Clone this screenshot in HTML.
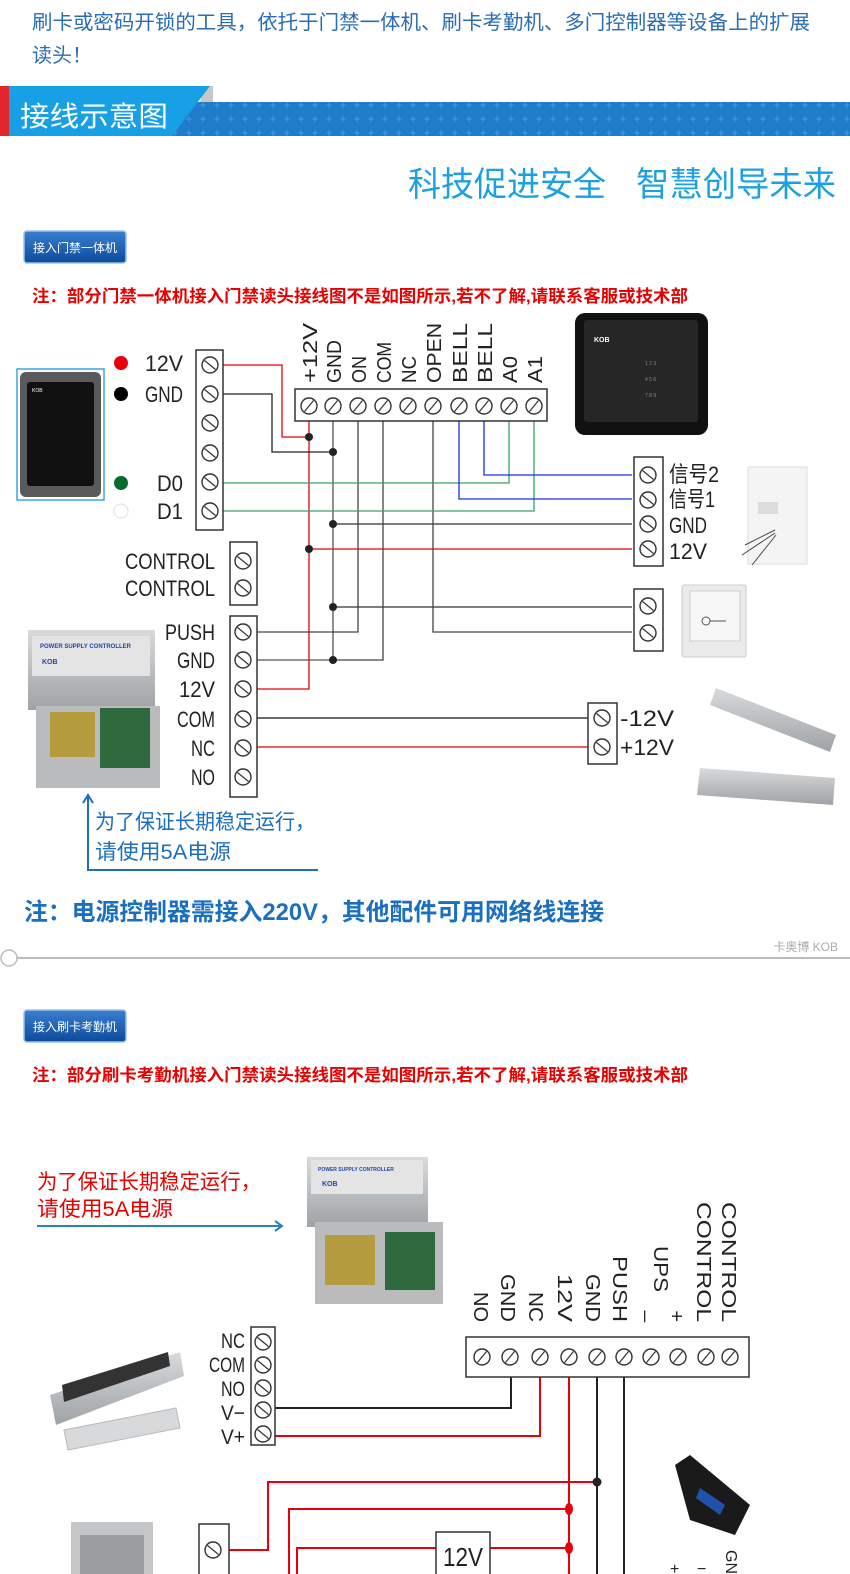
<!DOCTYPE html>
<html><head><meta charset="utf-8">
<style>
html,body{margin:0;padding:0;background:#fff;}
svg{display:block;}
text{font-family:"Liberation Sans","Noto Sans CJK SC",sans-serif;}
</style></head>
<body>
<svg width="850" height="1574" viewBox="0 0 850 1574" xmlns="http://www.w3.org/2000/svg">
<defs>
  <symbol id="sf" viewBox="-10 -10 20 20" overflow="visible">
    <circle r="8" fill="#fff" stroke="#333" stroke-width="1.4"/>
    <line x1="-4.5" y1="5.5" x2="4.5" y2="-5.5" stroke="#333" stroke-width="1.2"/>
  </symbol>
  <symbol id="sb" viewBox="-10 -10 20 20" overflow="visible">
    <circle r="8" fill="#fff" stroke="#333" stroke-width="1.4"/>
    <line x1="-5.5" y1="-4.5" x2="5.5" y2="4.5" stroke="#333" stroke-width="1.2"/>
  </symbol>
  <linearGradient id="btn" x1="0" y1="0" x2="0" y2="1">
    <stop offset="0" stop-color="#3a7fd0"/><stop offset="1" stop-color="#0d4a9c"/>
  </linearGradient>
  <linearGradient id="grey" x1="0" y1="0" x2="0" y2="1">
    <stop offset="0" stop-color="#d8dadc"/><stop offset="1" stop-color="#9fa3a6"/>
  </linearGradient>
  <pattern id="dots" width="14" height="14" patternUnits="userSpaceOnUse">
    <rect width="14" height="14" fill="#1f7ccb"/>
    <path d="M7 3 L8 7 L7 11 L6 7Z M3 7 L7 6 L11 7 L7 8Z" fill="#3d95dc"/>
  </pattern>
</defs>

<!-- top description -->
<text x="32" y="29" font-size="20" fill="#2a6db5" textLength="778" lengthAdjust="spacingAndGlyphs">刷卡或密码开锁的工具，依托于门禁一体机、刷卡考勤机、多门控制器等设备上的扩展</text>
<text x="32" y="62" font-size="20" fill="#2a6db5">读头！</text>

<!-- banner -->
<rect x="170" y="102" width="680" height="34" fill="url(#dots)"/>
<polygon points="205,86 213,86 213,102 200,102" fill="#c8c8c8"/>
<polygon points="8,86 210,86 172,136 8,136" fill="#18a0e6"/>
<rect x="0" y="86" width="9" height="50" fill="#e3262b"/>
<text x="20" y="126" font-size="28" fill="#fff" textLength="148" lengthAdjust="spacingAndGlyphs">接线示意图</text>

<text x="408" y="196" font-size="34" fill="#1aa0e3" textLength="198" lengthAdjust="spacingAndGlyphs">科技促进安全</text>
<text x="636" y="196" font-size="34" fill="#1aa0e3" textLength="200" lengthAdjust="spacingAndGlyphs">智慧创导未来</text>

<!-- button 1 -->
<rect x="24" y="231" width="102" height="32" rx="3" fill="url(#btn)" stroke="#9cc2ea" stroke-width="1.5"/>
<text x="75" y="252" font-size="12" fill="#fff" text-anchor="middle">接入门禁一体机</text>

<text x="32" y="302" font-size="17" font-weight="bold" fill="#e60000" textLength="656" lengthAdjust="spacingAndGlyphs">注：部分门禁一体机接入门禁读头接线图不是如图所示,若不了解,请联系客服或技术部</text>

<!-- left reader image -->
<rect x="17" y="369" width="87" height="131" fill="#fff" stroke="#3aa6e6" stroke-width="1.5"/>
<rect x="20" y="372" width="81" height="125" rx="6" fill="#5a5a5c"/>
<rect x="27" y="382" width="67" height="104" rx="3" fill="#111"/>
<text x="32" y="392" font-size="5" fill="#fff">KOB</text>

<!-- dots and labels -->
<circle cx="121" cy="363" r="7" fill="#e8000b"/>
<circle cx="121" cy="394" r="7" fill="#000"/>
<circle cx="121" cy="483" r="7" fill="#0a6a2e"/>
<circle cx="121" cy="511" r="7" fill="#fff" stroke="#ddd"/>
<g font-size="22" fill="#222">
<text x="145" y="371" textLength="38" lengthAdjust="spacingAndGlyphs">12V</text>
<text x="145" y="402" textLength="38" lengthAdjust="spacingAndGlyphs">GND</text>
<text x="157" y="491" textLength="26" lengthAdjust="spacingAndGlyphs">D0</text>
<text x="157" y="519" textLength="26" lengthAdjust="spacingAndGlyphs">D1</text>
<text x="125" y="569" textLength="90" lengthAdjust="spacingAndGlyphs">CONTROL</text>
<text x="125" y="596" textLength="90" lengthAdjust="spacingAndGlyphs">CONTROL</text>
<g text-anchor="end">
<text x="215" y="640" textLength="50" lengthAdjust="spacingAndGlyphs">PUSH</text>
<text x="215" y="668" textLength="38" lengthAdjust="spacingAndGlyphs">GND</text>
<text x="215" y="697" textLength="36" lengthAdjust="spacingAndGlyphs">12V</text>
<text x="215" y="727" textLength="38" lengthAdjust="spacingAndGlyphs">COM</text>
<text x="215" y="756" textLength="24" lengthAdjust="spacingAndGlyphs">NC</text>
<text x="215" y="785" textLength="24" lengthAdjust="spacingAndGlyphs">NO</text>
</g>
</g>

<!-- wires diagram 1 -->
<g fill="none" stroke-width="1.3">
<polyline points="223,365 282,365 282,437 309,437" stroke="#e8000b"/>
<polyline points="309,421 309,689 257,689" stroke="#e8000b"/>
<polyline points="309,549 632,549" stroke="#e8000b"/>
<polyline points="223,394 272,394 272,452 333,452" stroke="#222"/>
<polyline points="333,421 333,660 257,660" stroke="#555"/>
<polyline points="333,524 632,524" stroke="#333"/>
<polyline points="333,607 632,607" stroke="#333"/>
<polyline points="358,421 358,632 257,632" stroke="#444"/>
<polyline points="383,421 383,660 333,660" stroke="#444"/>
<polyline points="433,421 433,632 632,632" stroke="#444"/>
<polyline points="223,483 509,483 509,421" stroke="#3aa06a"/>
<polyline points="223,511 534,511 534,421" stroke="#3aa06a"/>
<polyline points="484,421 484,475 632,475" stroke="#1e2cf0"/>
<polyline points="459,421 459,499 632,499" stroke="#1e2cf0"/>
<polyline points="257,718 588,718" stroke="#111"/>
<polyline points="257,747 588,747" stroke="#e8000b"/>
</g>
<g fill="#222">
<circle cx="309" cy="437" r="4"/><circle cx="333" cy="452" r="4"/>
<circle cx="333" cy="524" r="4"/><circle cx="309" cy="549" r="4"/>
<circle cx="333" cy="607" r="4"/><circle cx="333" cy="660" r="4"/>
</g>

<!-- left terminal block -->
<rect x="196" y="350" width="27" height="180" fill="#fff" stroke="#333" stroke-width="1.5"/>
<use href="#sb" x="200" y="355" width="20" height="20"/>
<use href="#sb" x="200" y="384" width="20" height="20"/>
<use href="#sb" x="200" y="413" width="20" height="20"/>
<use href="#sb" x="200" y="443" width="20" height="20"/>
<use href="#sb" x="200" y="472" width="20" height="20"/>
<use href="#sb" x="200" y="501" width="20" height="20"/>

<rect x="230" y="542" width="27" height="63" fill="#fff" stroke="#333" stroke-width="1.5"/>
<use href="#sb" x="233" y="551" width="20" height="20"/>
<use href="#sb" x="233" y="578" width="20" height="20"/>

<rect x="230" y="616" width="27" height="181" fill="#fff" stroke="#333" stroke-width="1.5"/>
<use href="#sb" x="233" y="622" width="20" height="20"/>
<use href="#sb" x="233" y="650" width="20" height="20"/>
<use href="#sb" x="233" y="679" width="20" height="20"/>
<use href="#sb" x="233" y="709" width="20" height="20"/>
<use href="#sb" x="233" y="738" width="20" height="20"/>
<use href="#sb" x="233" y="767" width="20" height="20"/>

<!-- top block -->
<rect x="295" y="389" width="252" height="32" fill="#fff" stroke="#333" stroke-width="1.5"/>
<use href="#sf" x="299" y="396" width="20" height="20"/>
<use href="#sf" x="323" y="396" width="20" height="20"/>
<use href="#sf" x="348" y="396" width="20" height="20"/>
<use href="#sf" x="373" y="396" width="20" height="20"/>
<use href="#sf" x="398" y="396" width="20" height="20"/>
<use href="#sf" x="423" y="396" width="20" height="20"/>
<use href="#sf" x="449" y="396" width="20" height="20"/>
<use href="#sf" x="474" y="396" width="20" height="20"/>
<use href="#sf" x="499" y="396" width="20" height="20"/>
<use href="#sf" x="524" y="396" width="20" height="20"/>
<g font-size="20" fill="#222">
<text transform="translate(317,383) rotate(-90)" textLength="60" lengthAdjust="spacingAndGlyphs">+12V</text>
<text transform="translate(341,383) rotate(-90)" textLength="43" lengthAdjust="spacingAndGlyphs">GND</text>
<text transform="translate(366,383) rotate(-90)" textLength="27" lengthAdjust="spacingAndGlyphs">ON</text>
<text transform="translate(391,383) rotate(-90)" textLength="41" lengthAdjust="spacingAndGlyphs">COM</text>
<text transform="translate(416,383) rotate(-90)" textLength="27" lengthAdjust="spacingAndGlyphs">NC</text>
<text transform="translate(441,383) rotate(-90)" textLength="60" lengthAdjust="spacingAndGlyphs">OPEN</text>
<text transform="translate(467,383) rotate(-90)" textLength="60" lengthAdjust="spacingAndGlyphs">BELL</text>
<text transform="translate(492,383) rotate(-90)" textLength="60" lengthAdjust="spacingAndGlyphs">BELL</text>
<text transform="translate(517,383) rotate(-90)" textLength="27" lengthAdjust="spacingAndGlyphs">A0</text>
<text transform="translate(542,383) rotate(-90)" textLength="27" lengthAdjust="spacingAndGlyphs">A1</text>
</g>

<!-- right reader image -->
<rect x="575" y="313" width="133" height="122" rx="10" fill="#111"/>
<rect x="584" y="320" width="114" height="102" rx="3" fill="#262626"/>
<text x="594" y="342" font-size="7" fill="#fff" font-weight="bold">KOB</text>
<g fill="#888" font-size="5"><text x="645" y="365">1  2  3</text><text x="645" y="381">4  5  6</text><text x="645" y="397">7  8  9</text></g>

<!-- right blocks -->
<rect x="634" y="457" width="29" height="109" fill="#fff" stroke="#333" stroke-width="1.5"/>
<use href="#sb" x="638" y="465" width="20" height="20"/>
<use href="#sb" x="638" y="490" width="20" height="20"/>
<use href="#sb" x="638" y="514" width="20" height="20"/>
<use href="#sb" x="638" y="539" width="20" height="20"/>
<g font-size="22" fill="#222">
<text x="669" y="482" textLength="50" lengthAdjust="spacingAndGlyphs">信号2</text>
<text x="669" y="507" textLength="46" lengthAdjust="spacingAndGlyphs">信号1</text>
<text x="669" y="533" textLength="38" lengthAdjust="spacingAndGlyphs">GND</text>
<text x="669" y="559" textLength="38" lengthAdjust="spacingAndGlyphs">12V</text>
<text x="620" y="726" textLength="54" lengthAdjust="spacingAndGlyphs">-12V</text>
<text x="620" y="755" textLength="54" lengthAdjust="spacingAndGlyphs">+12V</text>
</g>
<rect x="634" y="589" width="29" height="62" fill="#fff" stroke="#333" stroke-width="1.5"/>
<use href="#sb" x="638" y="596" width="20" height="20"/>
<use href="#sb" x="638" y="623" width="20" height="20"/>
<rect x="588" y="703" width="29" height="61" fill="#fff" stroke="#333" stroke-width="1.5"/>
<use href="#sb" x="592" y="708" width="20" height="20"/>
<use href="#sb" x="592" y="737" width="20" height="20"/>

<!-- doorbell, exit button, locks -->
<rect x="748" y="467" width="59" height="97" fill="#f4f4f4" stroke="#ddd"/>
<rect x="758" y="502" width="20" height="12" fill="#ddd"/>
<path d="M745 545 L775 530 M742 555 L775 533 M752 565 L776 535" stroke="#444" stroke-width="1"/>
<rect x="682" y="585" width="64" height="72" rx="2" fill="#ebebeb" stroke="#ccc"/>
<rect x="690" y="591" width="50" height="50" fill="#f7f7f7" stroke="#ccc"/>
<circle cx="706" cy="621" r="4" fill="none" stroke="#555"/>
<line x1="710" y1="621" x2="726" y2="621" stroke="#555"/>
<polygon points="716,688 836,735 830,752 710,705" fill="url(#grey)"/>
<polygon points="700,768 835,778 833,805 697,795" fill="url(#grey)"/>

<!-- power supply image 1 -->
<rect x="28" y="630" width="127" height="80" fill="url(#grey)"/>
<rect x="32" y="636" width="118" height="40" fill="#e4e4e4"/>
<text x="40" y="648" font-size="6" fill="#2246a8" font-weight="bold">POWER SUPPLY CONTROLLER</text>
<text x="42" y="664" font-size="7" fill="#2246a8" font-weight="bold">KOB</text>
<rect x="36" y="706" width="124" height="82" fill="#b9bbbd"/>
<rect x="50" y="712" width="45" height="45" fill="#b39b3e"/>
<rect x="100" y="708" width="50" height="60" fill="#2f6a3e"/>

<!-- blue arrow 1 -->
<polyline points="88,797 88,870 318,870" fill="none" stroke="#1a6fc0" stroke-width="2"/>
<polyline points="83,803 88,795 93,803" fill="none" stroke="#1a6fc0" stroke-width="2"/>
<text x="95" y="829" font-size="21" fill="#1a6fc0" textLength="220" lengthAdjust="spacingAndGlyphs">为了保证长期稳定运行，</text>
<text x="95" y="859" font-size="21" fill="#1a6fc0" textLength="136" lengthAdjust="spacingAndGlyphs">请使用5A电源</text>

<text x="24" y="920" font-size="24" font-weight="bold" fill="#1a6fc0" textLength="580" lengthAdjust="spacingAndGlyphs">注：电源控制器需接入220V，其他配件可用网络线连接</text>

<!-- separator -->
<line x1="17" y1="958" x2="850" y2="958" stroke="#bbb" stroke-width="2"/>
<circle cx="9" cy="958" r="8" fill="#fff" stroke="#bbb" stroke-width="1.5"/>
<text x="838" y="951" font-size="12" fill="#aaa" text-anchor="end">卡奥博 KOB</text>

<!-- button 2 -->
<rect x="24" y="1010" width="102" height="32" rx="3" fill="url(#btn)" stroke="#9cc2ea" stroke-width="1.5"/>
<text x="75" y="1031" font-size="12" fill="#fff" text-anchor="middle">接入刷卡考勤机</text>

<text x="32" y="1081" font-size="17" font-weight="bold" fill="#e60000" textLength="656" lengthAdjust="spacingAndGlyphs">注：部分刷卡考勤机接入门禁读头接线图不是如图所示,若不了解,请联系客服或技术部</text>

<!-- diagram 2 -->
<text x="37" y="1189" font-size="21" fill="#e60000" textLength="224" lengthAdjust="spacingAndGlyphs">为了保证长期稳定运行，</text>
<text x="37" y="1216" font-size="21" fill="#e60000" textLength="136" lengthAdjust="spacingAndGlyphs">请使用5A电源</text>
<line x1="37" y1="1226" x2="281" y2="1226" stroke="#2a7fc6" stroke-width="2"/>
<polyline points="275,1221 282,1226 275,1231" fill="none" stroke="#2a7fc6" stroke-width="2"/>

<!-- power supply image 2 -->
<rect x="307" y="1157" width="121" height="70" fill="url(#grey)"/>
<rect x="311" y="1160" width="112" height="34" fill="#e4e4e4"/>
<text x="318" y="1171" font-size="5" fill="#2246a8" font-weight="bold">POWER SUPPLY CONTROLLER</text>
<text x="322" y="1186" font-size="7" fill="#2246a8" font-weight="bold">KOB</text>
<rect x="315" y="1222" width="128" height="82" fill="#b9bbbd"/>
<rect x="325" y="1235" width="50" height="50" fill="#b39b3e"/>
<rect x="385" y="1232" width="50" height="58" fill="#2f6a3e"/>

<!-- rotated labels diagram 2 -->
<g font-size="20" fill="#222" text-anchor="end">
<text transform="translate(474,1322) rotate(90)" textLength="30" lengthAdjust="spacingAndGlyphs">NO</text>
<text transform="translate(501,1322) rotate(90)" textLength="48" lengthAdjust="spacingAndGlyphs">GND</text>
<text transform="translate(529,1322) rotate(90)" textLength="30" lengthAdjust="spacingAndGlyphs">NC</text>
<text transform="translate(558,1322) rotate(90)" textLength="48" lengthAdjust="spacingAndGlyphs">12V</text>
<text transform="translate(586,1322) rotate(90)" textLength="48" lengthAdjust="spacingAndGlyphs">GND</text>
<text transform="translate(613,1322) rotate(90)" textLength="66" lengthAdjust="spacingAndGlyphs">PUSH</text>
<text transform="translate(654,1292) rotate(90)" textLength="46" lengthAdjust="spacingAndGlyphs">UPS</text>
<text transform="translate(648,1322) rotate(90)">_</text>
<text transform="translate(670,1322) rotate(90)">+</text>
<text transform="translate(697,1322) rotate(90)" textLength="120" lengthAdjust="spacingAndGlyphs">CONTROL</text>
<text transform="translate(722,1322) rotate(90)" textLength="120" lengthAdjust="spacingAndGlyphs">CONTROL</text>
</g>

<!-- lock image 2 -->
<polygon points="50,1395 180,1352 184,1376 56,1425" fill="url(#grey)"/>
<polygon points="62,1385 168,1352 170,1366 64,1402" fill="#333"/>
<polygon points="64,1430 176,1408 180,1428 68,1450" fill="#d7d9db" stroke="#bbb"/>

<!-- wires diagram 2 -->
<g fill="none" stroke-width="2">
<polyline points="275,1408 511,1408 511,1377" stroke="#222"/>
<polyline points="275,1436 540,1436 540,1377" stroke="#e8000b"/>
<polyline points="569,1377 569,1574" stroke="#e8000b"/>
<polyline points="597,1377 597,1574" stroke="#222"/>
<polyline points="624,1377 624,1574" stroke="#222"/>
<polyline points="229,1550 268,1550 268,1482 597,1482" stroke="#e8000b"/>
<polyline points="289,1574 289,1509 569,1509" stroke="#e8000b"/>
<polyline points="297,1574 297,1548 436,1548" stroke="#e8000b"/>
<polyline points="490,1548 569,1548" stroke="#e8000b"/>
</g>
<circle cx="597" cy="1482" r="4.5" fill="#222"/>
<ellipse cx="569" cy="1509" rx="4" ry="6" fill="#e8000b"/>
<ellipse cx="569" cy="1548" rx="4" ry="6" fill="#e8000b"/>

<!-- block 2 left -->
<rect x="251" y="1327" width="24" height="118" fill="#fff" stroke="#333" stroke-width="1.5"/>
<use href="#sb" x="253" y="1332" width="20" height="20"/>
<use href="#sb" x="253" y="1355" width="20" height="20"/>
<use href="#sb" x="253" y="1378" width="20" height="20"/>
<use href="#sb" x="253" y="1400" width="20" height="20"/>
<use href="#sb" x="253" y="1424" width="20" height="20"/>
<g font-size="21" fill="#222" text-anchor="end">
<text x="245" y="1348" textLength="24" lengthAdjust="spacingAndGlyphs">NC</text>
<text x="245" y="1372" textLength="36" lengthAdjust="spacingAndGlyphs">COM</text>
<text x="245" y="1396" textLength="24" lengthAdjust="spacingAndGlyphs">NO</text>
<text x="245" y="1420" textLength="24" lengthAdjust="spacingAndGlyphs">V−</text>
<text x="245" y="1444" textLength="24" lengthAdjust="spacingAndGlyphs">V+</text>
</g>

<!-- block 2 top -->
<rect x="466" y="1337" width="283" height="40" fill="#fff" stroke="#333" stroke-width="1.5"/>
<use href="#sf" x="472" y="1347" width="20" height="20"/>
<use href="#sf" x="500" y="1347" width="20" height="20"/>
<use href="#sf" x="530" y="1347" width="20" height="20"/>
<use href="#sf" x="559" y="1347" width="20" height="20"/>
<use href="#sf" x="587" y="1347" width="20" height="20"/>
<use href="#sf" x="614" y="1347" width="20" height="20"/>
<use href="#sf" x="641" y="1347" width="20" height="20"/>
<use href="#sf" x="668" y="1347" width="20" height="20"/>
<use href="#sf" x="696" y="1347" width="20" height="20"/>
<use href="#sf" x="720" y="1347" width="20" height="20"/>

<!-- 12V box -->
<rect x="436" y="1532" width="54" height="44" fill="#fff" stroke="#333" stroke-width="1.5"/>
<text x="463" y="1566" font-size="26" fill="#222" text-anchor="middle" textLength="40" lengthAdjust="spacingAndGlyphs">12V</text>

<!-- small block -->
<rect x="199" y="1524" width="30" height="52" fill="#fff" stroke="#333" stroke-width="1.5"/>
<use href="#sb" x="203" y="1540" width="20" height="20"/>

<!-- exit button 2 -->
<rect x="71" y="1522" width="82" height="54" fill="#c4c6c8"/>
<rect x="80" y="1535" width="64" height="40" fill="#9a9c9e"/>

<!-- converter -->
<polygon points="675,1465 690,1455 750,1505 735,1535 690,1520" fill="#1a1a1a"/>
<polygon points="700,1488 725,1505 720,1515 696,1498" fill="#2350a8"/>

<g font-size="16" fill="#222">
<text x="670" y="1574">+</text>
<text x="697" y="1574">−</text>
<text transform="translate(726,1550) rotate(90)">GND</text>
</g>
</svg>
</body></html>
